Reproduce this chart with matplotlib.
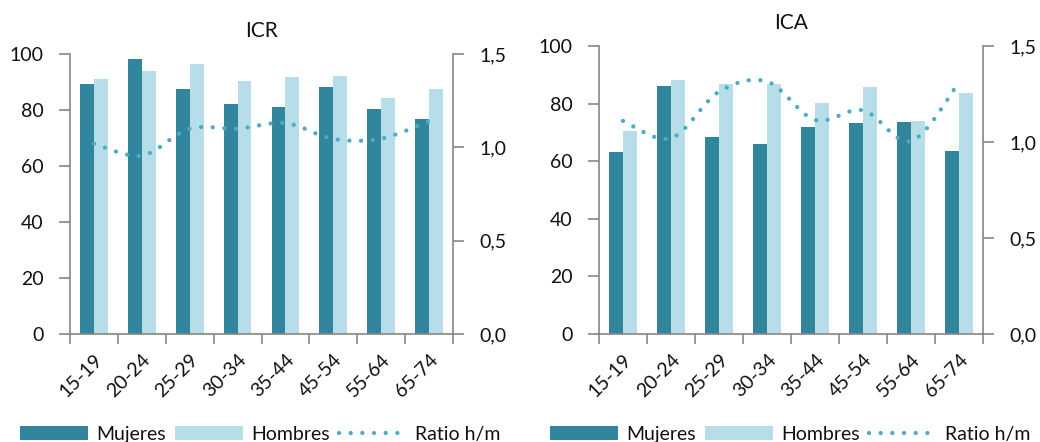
import numpy as np
import matplotlib
matplotlib.use("Agg")
import matplotlib.pyplot as plt
from matplotlib.path import Path
from matplotlib.patches import PathPatch, Patch
from matplotlib.lines import Line2D
from matplotlib.ticker import FuncFormatter

plt.rcParams['font.family'] = ['Lato', 'DejaVu Sans']

# ================= DATOS =================
grupos = ["15-19", "20-24", "25-29", "30-34", "35-44", "45-54", "55-64", "65-74"]

icr_mujeres = [89.2, 98.2, 87.5, 82.0, 81.1, 88.2, 80.4, 76.7]
icr_hombres = [91.0, 93.9, 96.3, 90.2, 91.8, 92.2, 84.2, 87.5]
icr_ratio = [1.02, 0.956, 1.10, 1.10, 1.13, 1.045, 1.047, 1.14]

ica_mujeres = [63.2, 86.0, 68.5, 66.1, 71.9, 73.3, 73.6, 63.6]
ica_hombres = [70.4, 88.1, 86.7, 86.7, 80.3, 85.6, 74.0, 83.7]
ica_ratio = [1.11, 1.02, 1.262, 1.315, 1.115, 1.165, 1.005, 1.31]

# ================= ESTILO =================
C_MUJ = "#31859C"
C_HOM = "#B7DEE8"
C_RAT = "#4BACC6"
C_SPINE = "#868686"
C_TXT = "#111111"
FS = 14
BAR_W = 0.29
LW_RAT = 3.1
DOTS = (0, (0.01, 2.7))


def smooth_path(xs, ys):
    # curva suavizada tipo Excel (Bezier a partir de los puntos)
    pts = np.column_stack([xs, ys]).astype(float)
    n = len(pts)
    verts = [pts[0]]
    codes = [Path.MOVETO]
    for i in range(n - 1):
        p0 = pts[i - 1] if i > 0 else pts[i]
        p1 = pts[i]
        p2 = pts[i + 1]
        p3 = pts[i + 2] if i + 2 < n else pts[i + 1]
        c1 = p1 + (p2 - p0) / 6.0
        c2 = p2 - (p3 - p1) / 6.0
        verts += [c1, c2, p2]
        codes += [Path.CURVE4] * 3
    return Path(verts, codes)


def panel(rect, titulo, mujeres, hombres, ratio):
    ax = fig.add_axes(rect)
    x = np.arange(len(grupos))
    ax.bar(x - BAR_W / 2, mujeres, BAR_W, color=C_MUJ, zorder=2)
    ax.bar(x + BAR_W / 2, hombres, BAR_W, color=C_HOM, zorder=2)
    ax.set_xlim(-0.5, len(grupos) - 0.5)
    ax.set_ylim(0, 100)
    ax.set_yticks(range(0, 101, 20))
    ax.set_xticks(np.arange(-0.5, len(grupos), 1.0))
    ax.set_xticklabels([])
    ax.set_xticks(x, minor=True)
    ax.set_xticklabels(grupos, minor=True, rotation=45, ha="right",
                       va="top", rotation_mode="anchor", fontsize=FS,
                       color=C_TXT)
    ax.tick_params(axis="x", which="minor", length=0, pad=12)
    ax.tick_params(axis="x", which="major", length=7, color=C_SPINE, width=1.2)
    ax.tick_params(axis="y", length=8, color=C_SPINE, width=1.2, pad=11,
                   labelsize=FS, labelcolor=C_TXT)
    for s in ["top", "right"]:
        ax.spines[s].set_visible(False)
    for s in ["left", "bottom"]:
        ax.spines[s].set_color(C_SPINE)
        ax.spines[s].set_linewidth(1.2)
    ax.set_title(titulo, fontsize=FS + 1, pad=12, color=C_TXT)

    ax2 = ax.twinx()
    ax2.set_ylim(0, 1.5)
    ax2.set_yticks([0, 0.5, 1.0, 1.5])
    ax2.yaxis.set_major_formatter(FuncFormatter(lambda v, p: f"{v:.1f}".replace(".", ",")))
    ax2.tick_params(axis="y", length=8, color=C_SPINE, width=1.2, pad=11,
                    labelsize=FS, labelcolor=C_TXT)
    for s in ["top", "left", "bottom"]:
        ax2.spines[s].set_visible(False)
    ax2.spines["right"].set_color(C_SPINE)
    ax2.spines["right"].set_linewidth(1.2)
    patch = PathPatch(smooth_path(x, ratio), fill=False, edgecolor=C_RAT,
                      linewidth=LW_RAT, linestyle=DOTS, capstyle="round", zorder=3)
    ax2.add_patch(patch)
    return ax


fig = plt.figure(figsize=(10.4, 4.42), dpi=100)

ax_l = panel([0.0673, 0.2443, 0.3683, 0.6335], "ICR", icr_mujeres, icr_hombres, icr_ratio)
ax_r = panel([0.576, 0.2443, 0.3692, 0.6516], "ICA", ica_mujeres, ica_hombres, ica_ratio)

handles = [Patch(facecolor=C_MUJ), Patch(facecolor=C_HOM),
           Line2D([0], [0], color=C_RAT, linewidth=LW_RAT, linestyle=DOTS,
                  dash_capstyle="round")]
labels = ["Mujeres", "Hombres", "Ratio h/m"]
for x0 in [0.0192, 0.5288]:
    leg = fig.legend(handles, labels, loc="center left", bbox_to_anchor=(x0, 0.018),
                     ncol=3, frameon=False, fontsize=FS, handlelength=3.5,
                     handletextpad=0.4, columnspacing=0.5, borderpad=0,
                     borderaxespad=0)
    for t in leg.get_texts():
        t.set_color(C_TXT)

fig.savefig("out.png", dpi=100)
